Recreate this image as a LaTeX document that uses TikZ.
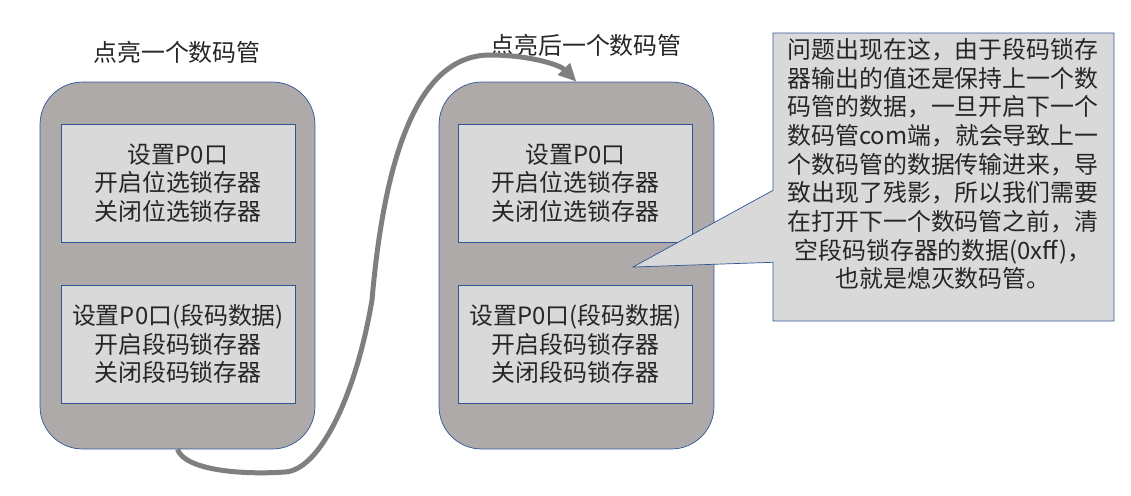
\documentclass[tikz,border=0pt]{standalone}
\usepackage{fontspec}
\setmainfont{Noto Sans CJK SC}
\usetikzlibrary{shapes.callouts, arrows.meta}
\definecolor{tubegray}{HTML}{AEAAAA}
\definecolor{boxgray}{HTML}{D9D9D9}
\definecolor{edgeblue}{HTML}{2F5597}
\definecolor{flowgray}{HTML}{7F7F7F}

\begin{document}
\begin{tikzpicture}[x=0.02cm, y=-0.02cm,
	every node/.style={font=\fontsize{13.6}{16.3}\selectfont, text=black!85},
	tube/.style={draw=edgeblue, fill=tubegray, rounded corners=0.85cm, minimum width=5.5cm, minimum height=7.34cm},
	stepbox/.style={draw=edgeblue, fill=boxgray, minimum width=4.68cm, minimum height=2.36cm, align=center},
	notebox/.style={rectangle callout, draw=edgeblue, fill=boxgray, minimum width=6.82cm, minimum height=5.76cm, callout pointer width=1.44cm}]
	\useasboundingbox (0, 0) rectangle (1131, 495);
	% Tubes and steps:
	\node[tube] (led1) at (177.5, 265.5) {};
	\node[tube] (led2) at (576.5, 265.5) {};
	\node[stepbox] (sel1) at (178, 183) {设置P0口\\开启位选锁存器\\关闭位选锁存器};
	\node[stepbox] (seg1) at (178, 344) {设置P0口(段码数据)\\开启段码锁存器\\关闭段码锁存器};
	\node[stepbox] (sel2) at (575.5, 183) {设置P0口\\开启位选锁存器\\关闭位选锁存器};
	\node[stepbox] (seg2) at (575.5, 344) {设置P0口(段码数据)\\开启段码锁存器\\关闭段码锁存器};
	\node (title1) at (177, 52) {点亮一个数码管};
	\node (title2) at (586, 45) {点亮后一个数码管};
	% Callout:
	\node[notebox, callout absolute pointer={(633, 267)}] (note) at (943.5, 177) {};
	\node[align=center, inner sep=0pt] (notetext) at (943, 164) {问题出现在这，由于段码锁存\\器输出的值还是保持上一个数\\码管的数据，一旦开启下一个\\数码管com端，就会导致上一\\个数码管的数据传输进来，导\\致出现了残影，所以我们需要\\在打开下一个数码管之前，清\\空段码锁存器的数据(0xff)，\\也就是熄灭数码管。};
	% Flow arrow:
	\draw[flowgray, line width=0.1cm, -{Triangle[length=0.36cm, width=0.32cm]}] (led1.south) .. controls (185, 470) and (240, 475) .. (285, 472) .. controls (320, 470) and (356, 395) .. (372, 300) .. controls (385, 150) and (420, 55) .. (490, 55) .. controls (530, 55) and (560, 65) .. (led2.north);
\end{tikzpicture}
\end{document}
